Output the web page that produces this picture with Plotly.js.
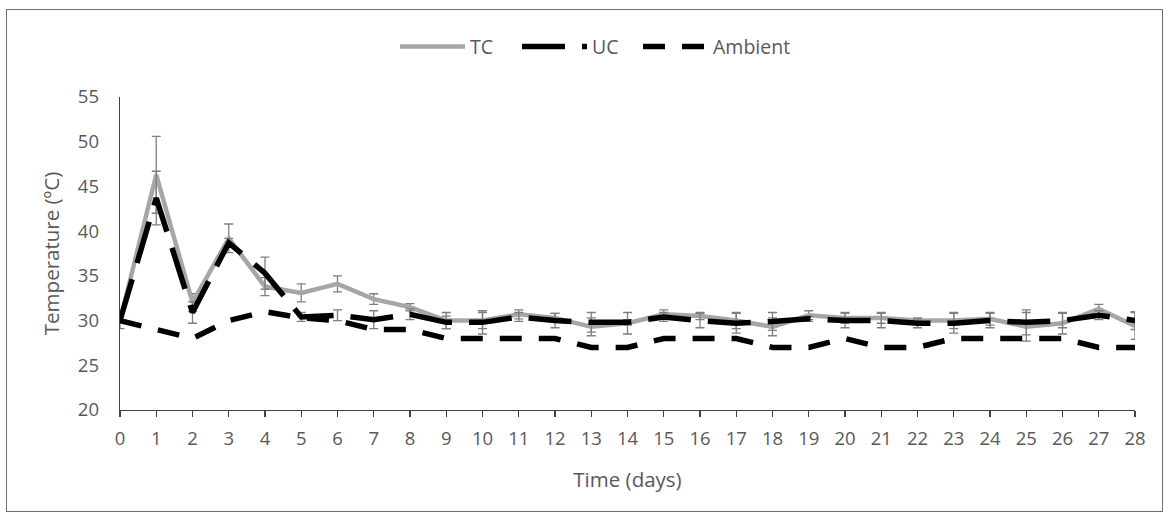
<!DOCTYPE html>
<html>
<head>
<meta charset="utf-8">
<script src="https://cdn.plot.ly/plotly-3.0.1.min.js"></script>
<style>
html,body{margin:0;padding:0;background:#fff;}
#chart{position:absolute;left:0;top:0;width:1171px;height:518px;}
#frame{position:absolute;left:6px;top:9px;width:1155px;height:501px;border:1px solid #6e6e6e;pointer-events:none;}
</style>
</head>
<body>
<div id="chart"></div>
<div id="frame"></div>
<script>
const days = [0,1,2,3,4,5,6,7,8,9,10,11,12,13,14,15,16,17,18,19,20,21,22,23,24,25,26,27,28];
const tc = [30,46.3,32.0,39.2,33.8,33.1,34.1,32.4,31.5,30.0,30.0,30.7,30.3,29.3,29.7,30.7,30.5,30.0,29.3,30.6,30.3,30.3,30.0,30.0,30.2,29.3,29.7,31.3,29.4];
const tcErr = [0.9,4.3,1.0,1.6,1.0,1.0,0.9,0.6,0.4,0.9,0.9,0.5,0.5,1.0,1.2,0.5,0.4,0.9,1.0,0.5,0.6,0.6,0.3,0.9,0.7,1.6,1.2,0.5,1.5];
const uc = [30,43.7,30.9,38.7,35.3,30.4,30.6,30.1,30.7,29.8,29.8,30.4,30.0,29.8,29.8,30.4,30.0,29.7,29.9,30.2,30.0,30.0,29.7,29.7,30.0,29.8,30.0,30.6,30.0];
const ucErr = [0,3.0,1.2,0.5,1.8,0.5,0.6,1.0,0.6,0.7,1.3,0.5,0.8,1.1,0.3,0.5,0.8,1.1,1.0,0.3,0.8,0.8,0.5,1.1,0.8,1.4,0.8,0.5,1.0];
const ambient = [30,29,28,30,31,30.3,30,29,29,28,28,28,28,27,27,28,28,28,27,27,28,27,27,28,28,28,28,27,27];
const xTicks = days;
const yTicks = [20,25,30,35,40,45,50,55];

const FONT = '"Open Sans", "Noto Sans", sans-serif';
const TXT = '#595959';
const errStyle = (arr) => ({type:'data', array:arr, visible:true, color:'#7f7f7f', thickness:1.3, width:4.5});

const traces = [
  {x:days, y:tc, name:'TC', mode:'lines', line:{color:'#a6a6a6', width:4.5}, error_y:errStyle(tcErr), legend:'legend'},
  {x:days, y:uc, name:'UC', mode:'lines', line:{color:'#000000', width:5.5, dash:'43px,17px'}, error_y:errStyle(ucErr), legend:'legend'},
  {x:days, y:ambient, name:'Ambient', mode:'lines', line:{color:'#000000', width:5.5, dash:'22px,17px'}, legend:'legend2'}
];

const legendBase = {orientation:'h', xanchor:'left', y:1.16, yanchor:'middle',
  font:{family:FONT, size:19.5, color:TXT}, itemwidth:65, tracegroupgap:0, bgcolor:'rgba(0,0,0,0)'};

const layout = {
  width:1171, height:518,
  margin:{l:120, r:36, t:97, b:108},
  paper_bgcolor:'#ffffff', plot_bgcolor:'#ffffff',
  font:{family:FONT, color:TXT, size:18},
  showlegend:true,
  legend:Object.assign({}, legendBase, {x:(395-120)/1015, entrywidth:42, entrywidthmode:'pixels'}),
  legend2:Object.assign({}, legendBase, {x:(638-120)/1015}),
  xaxis:{range:[0,28], tickvals:xTicks, ticktext:xTicks.map(String), showgrid:false, zeroline:false,
         showline:true, linecolor:'#404040', linewidth:1.3, ticks:'outside', ticklen:6, tickcolor:'#404040', tickwidth:1.3,
         ticklabelstandoff:5, tickfont:{family:FONT, size:18.5, color:TXT},
         title:{text:'Time (days)', font:{family:FONT, size:20.5, color:TXT}, standoff:24}},
  yaxis:{range:[20,55], tickvals:yTicks, ticktext:yTicks.map(String), showgrid:false, zeroline:false,
         showline:true, linecolor:'#404040', linewidth:1.3, ticks:'', ticklabelstandoff:16,
         tickfont:{family:FONT, size:18.5, color:TXT},
         title:{text:'Temperature (ºC)', font:{family:FONT, size:20.5, color:TXT}, standoff:12}}
};

Plotly.newPlot('chart', traces, layout, {displayModeBar:false, staticPlot:true});
</script>
</body>
</html>
